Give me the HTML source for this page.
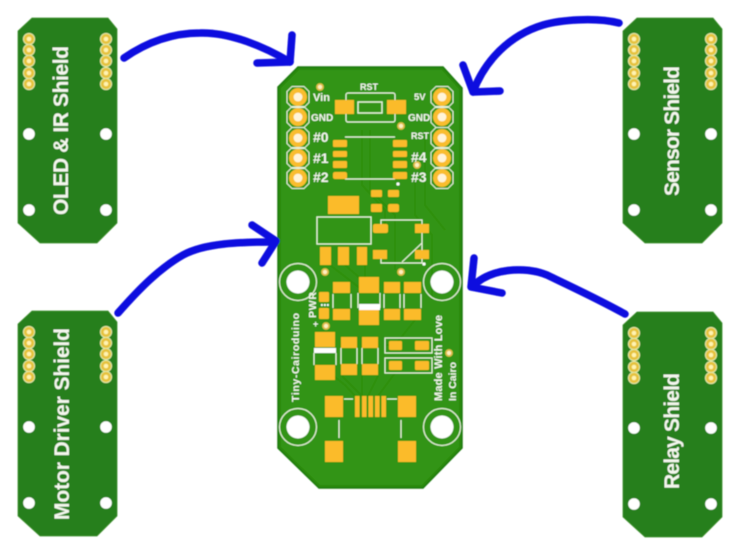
<!DOCTYPE html>
<html><head><meta charset="utf-8"><style>
html,body{margin:0;padding:0;background:#fff}
svg{display:block}
text{font-family:"Liberation Sans",sans-serif;font-weight:bold;fill:#f4f7ee}
</style></head><body>
<svg width="740" height="555" viewBox="0 0 740 555" xmlns="http://www.w3.org/2000/svg">
<defs>
<filter id="b" x="-5%" y="-5%" width="110%" height="110%"><feGaussianBlur stdDeviation="0.55"/></filter>
<g id="pin5">
<g fill="#e6c23c" stroke="#dfe9a8" stroke-width="1"><circle cx="0" cy="0" r="5.600"/><circle cx="0" cy="11" r="5.600"/><circle cx="0" cy="22" r="5.600"/><circle cx="0" cy="34" r="5.600"/><circle cx="0" cy="45" r="5.600"/></g>
<g fill="#fff3b0"><circle cx="0" cy="0" r="2.300"/><circle cx="0" cy="11" r="2.300"/><circle cx="0" cy="22" r="2.300"/><circle cx="0" cy="34" r="2.300"/><circle cx="0" cy="45" r="2.300"/></g>
</g>
<g id="shield">
<path d="M14 0H90L99 11V205L79 225H22L0 205V13Z" fill="#267f1c" stroke="#3f9030" stroke-width="0.8"/>
<use href="#pin5" x="11" y="21"/><use href="#pin5" x="88" y="21"/>
<g fill="#fff"><circle cx="11" cy="116" r="5.800"/><circle cx="88" cy="116" r="5.800"/><circle cx="11" cy="192" r="5.800"/><circle cx="88" cy="192" r="5.800"/></g>
</g>
<g id="bigpin"><path d="M-6 -10.500H6L11 -5.500V5.500L6 10.500H-6L-11 5.500V-5.500Z" fill="none" stroke="#e6f2d8" stroke-width="1"/><circle r="9" fill="#f9bd2f"/><circle r="4.400" fill="#fff4d8"/></g>
<g id="hole"><circle r="18.500" fill="none" stroke="#e6f2d8" stroke-width="1.200"/><circle r="11.500" fill="#fff"/></g>
</defs>

<g filter="url(#b)">
<use href="#shield" x="18" y="18"/>
<use href="#shield" x="18" y="311"/>
<use href="#shield" x="623" y="18"/>
<use href="#shield" x="623" y="312"/>
<text transform="translate(68,215) rotate(-90)" font-size="21" textLength="169" lengthAdjust="spacing">OLED &amp; IR Shield</text>
<text transform="translate(69,520) rotate(-90)" font-size="21" textLength="192" lengthAdjust="spacing">Motor Driver Shield</text>
<text transform="translate(679,196) rotate(-90)" font-size="21" textLength="130" lengthAdjust="spacing">Sensor Shield</text>
<text transform="translate(679,489) rotate(-90)" font-size="21" textLength="116" lengthAdjust="spacing">Relay Shield</text>

<!-- main board -->
<path d="M298 67H443L462 88V448L423 488H319L278 448V87Z" fill="#2b8a0e" stroke="#1f7a10" stroke-width="1.500"/>
<path d="M299 70H442L459 89V447L422 485H320L281 447V88Z" fill="#339412"/>
<!-- traces -->
<g fill="none" stroke="#2f8f11" stroke-width="1.800">
<path d="M370 130V190L395 215V270"/><path d="M362 130V185L385 210V225"/><path d="M415 180V215L432 235V300"/>
<path d="M425 130V205L445 230"/><path d="M330 265L365 292"/><path d="M345 265L385 300"/>
<path d="M362 375V396"/><path d="M342 376L362 396"/><path d="M378 376L368 396"/><path d="M395 373L378 396"/>
<path d="M320 365L345 385L355 396"/><path d="M415 320L395 345L385 345"/><path d="M365 265L365 277"/>
</g>
<!-- pin headers -->
<use href="#bigpin" x="298" y="97"/><use href="#bigpin" x="298" y="117"/><use href="#bigpin" x="298" y="138"/><use href="#bigpin" x="298" y="158"/><use href="#bigpin" x="298" y="178"/>
<use href="#bigpin" x="442" y="97"/><use href="#bigpin" x="442" y="117"/><use href="#bigpin" x="442" y="138"/><use href="#bigpin" x="442" y="158"/><use href="#bigpin" x="442" y="178"/>
<use href="#hole" x="298" y="282"/><use href="#hole" x="442" y="282"/><use href="#hole" x="298" y="427"/><use href="#hole" x="442" y="427"/>
<!-- vias -->
<g fill="#fff0c0" stroke="#e0bd4a" stroke-width="1.800"><circle cx="320" cy="87" r="3"/><circle cx="401" cy="126" r="3"/><circle cx="417" cy="165" r="3"/><circle cx="325" cy="272" r="3"/><circle cx="401" cy="272" r="3"/><circle cx="326" cy="326" r="3"/><circle cx="449" cy="353" r="3"/></g>
<circle cx="398" cy="184" r="1.600" fill="#fff"/><circle cx="424" cy="264" r="1.600" fill="#fff"/>
<!-- silkscreen -->
<g fill="none" stroke="#eaf4de" stroke-width="1.200">
<rect x="346" y="93" width="49" height="29" rx="2"/>
<rect x="358" y="102" width="24" height="11" stroke-width="1.400"/>
<path d="M345 137H395M345 179H395"/>
<rect x="317" y="217" width="54" height="27" stroke-width="1.300"/>
<path d="M381 232V220H422V263H381V254M422 243L402 262"/>
<path d="M333 294V308M351 294V308M358 293V308M380 293V308M384 294V308M400 294V308M404 294V308M421 294V308"/>
<path d="M314 353V365M336 353V365M341 348V364M357 348V364M362 348V364M378 348V364"/>
<rect x="385" y="338" width="47" height="15"/><rect x="385" y="358" width="47" height="15"/>
<path d="M344 399H353M387 399H397M339 420V438M401 420V438"/>
</g>
<rect x="359" y="304" width="21" height="6" fill="#fff"/>
<rect x="314" y="348" width="22" height="5" fill="#fff"/>
<!-- gold pads -->
<g fill="#fbbb2c">
<rect x="335" y="100" width="19" height="14"/><rect x="387" y="100" width="19" height="14"/>
<rect x="333" y="140" width="14" height="7" rx="1"/><rect x="333" y="151" width="14" height="6" rx="1"/><rect x="333" y="161" width="14" height="7" rx="1"/><rect x="333" y="172" width="14" height="7" rx="2"/>
<rect x="393" y="140" width="14" height="7" rx="1"/><rect x="393" y="151" width="14" height="6" rx="1"/><rect x="393" y="161" width="14" height="7" rx="1"/><rect x="393" y="172" width="14" height="7" rx="1"/>
<rect x="371" y="190" width="11" height="7" rx="1"/><rect x="388" y="190" width="11" height="7" rx="1"/>
<rect x="371" y="204" width="11" height="8" rx="1"/><rect x="388" y="204" width="11" height="8" rx="2"/>
<rect x="328" y="196" width="31" height="18"/>
<rect x="320" y="247" width="11" height="18"/><rect x="338" y="247" width="11" height="18"/><rect x="357" y="247" width="10" height="18"/>
<rect x="373" y="224" width="15" height="9" rx="2"/><rect x="415" y="224" width="14" height="9"/><rect x="373" y="250" width="14" height="9"/><rect x="415" y="250" width="14" height="9"/>
<rect x="319" y="292" width="10" height="10" rx="1"/><rect x="319" y="308" width="10" height="11" rx="1"/>
<rect x="333" y="282" width="17" height="11"/><rect x="333" y="309" width="17" height="11"/>
<rect x="359" y="277" width="20" height="16"/><rect x="359" y="310" width="20" height="15"/>
<rect x="384" y="282" width="16" height="11"/><rect x="384" y="309" width="16" height="11"/>
<rect x="404" y="282" width="17" height="11"/><rect x="404" y="309" width="17" height="11"/>
<rect x="315" y="332" width="20" height="15"/><rect x="315" y="365" width="20" height="15"/>
<rect x="341" y="337" width="16" height="11"/><rect x="341" y="364" width="16" height="11"/>
<rect x="362" y="337" width="16" height="11"/><rect x="362" y="364" width="16" height="11"/>
<rect x="389" y="341" width="13" height="9" rx="1"/><rect x="415" y="341" width="14" height="9" rx="1"/>
<rect x="389" y="361" width="13" height="9" rx="1"/><rect x="415" y="361" width="14" height="9" rx="1"/>
<rect x="325" y="396" width="18" height="21"/><rect x="398" y="396" width="18" height="21"/>
<rect x="325" y="441" width="18" height="21"/><rect x="398" y="441" width="18" height="21"/>
<rect x="355" y="396" width="4.500" height="21"/><rect x="362" y="396" width="4.500" height="21"/><rect x="368.500" y="396" width="4.500" height="21"/><rect x="375" y="396" width="4.500" height="21"/><rect x="381.500" y="396" width="4.500" height="21"/>
</g>
<g fill="#fff"><rect x="321" y="304" width="1.800" height="2"/><rect x="324" y="304" width="1.800" height="2"/><rect x="327" y="304" width="1.800" height="2"/></g>
<!-- board labels -->
<text x="313" y="101" font-size="11">Vin</text>
<text x="311" y="121" font-size="10">GND</text>
<text x="313" y="142" font-size="14">#0</text>
<text x="313" y="163" font-size="14">#1</text>
<text x="313" y="182" font-size="14">#2</text>
<text x="360" y="90" font-size="9">RST</text>
<text x="414" y="100" font-size="9.500">5V</text>
<text x="408" y="121" font-size="10">GND</text>
<text x="411" y="139" font-size="9">RST</text>
<text x="411" y="162" font-size="14">#4</text>
<text x="411" y="182" font-size="14">#3</text>
<text x="313" y="327" font-size="9" fill="#eaf4de">+</text>
<text transform="translate(316,318) rotate(-90)" font-size="10.500" textLength="26" lengthAdjust="spacing">PWR</text>
<text transform="translate(299,402) rotate(-90)" font-size="10.500" textLength="89" lengthAdjust="spacing">Tiny-Cairoduino</text>
<text transform="translate(442,401) rotate(-90)" font-size="11" textLength="86" lengthAdjust="spacing">Made With Love</text>
<text transform="translate(456,401) rotate(-90)" font-size="10.500" textLength="39" lengthAdjust="spacing">In Cairo</text>
<!-- arrows -->
<g fill="none" stroke="#0a0adf" stroke-width="7.500" stroke-linecap="round" stroke-linejoin="round">
<path d="M124 58C150 40 175 33 200 33C230 32 265 47 290 62"/><path d="M292 35L290 62L257 63"/>
<path d="M118 313C140 288 160 268 183 255C205 243 240 242 275 242"/><path d="M252 225L276 241L262 263"/>
<path d="M619 23C595 17 560 20 543 25C510 35 485 60 473 92"/><path d="M463 65L473 92L500 91"/>
<path d="M625 314C600 300 570 286 547 275C525 266 490 268 472 287"/><path d="M474 258L471 287L502 293"/>
</g>
</g>
</svg>
</body></html>
